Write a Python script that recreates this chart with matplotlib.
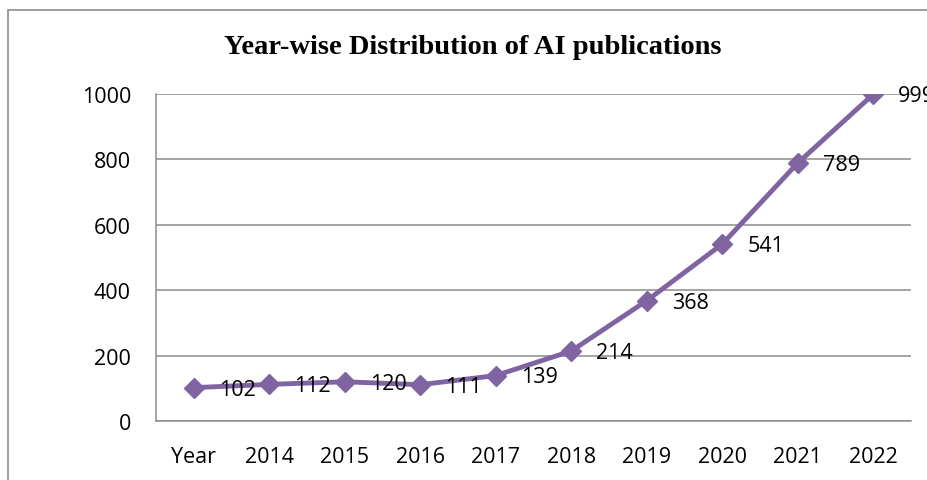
import matplotlib.pyplot as plt
import matplotlib.patches as mpatches

# Data
years = ['Year', '2014', '2015', '2016', '2017', '2018', '2019', '2020', '2021', '2022']
pubs = [102, 112, 120, 111, 139, 214, 368, 541, 789, 999]

line_color = '#8064A2'
grid_color = '#8C8C8C'

fig = plt.figure(figsize=(9.28, 4.81), dpi=100)
ax = fig.add_axes([156 / 928, 1 - 422 / 481, (911 - 156) / 928, (422 - 95) / 481])

x = list(range(len(years)))
ax.plot(x, pubs, color=line_color, linewidth=3.5, marker='D', markersize=10.5,
        markerfacecolor=line_color, markeredgecolor=line_color, zorder=3)

# Data labels to the right of each point
for xi, v in zip(x, pubs):
    ax.annotate(str(v), (xi, v), xytext=(18, -1), textcoords='offset points',
                ha='left', va='center', fontsize=15.5, family='Open Sans',
                color='black', zorder=4, annotation_clip=False)

ax.set_xlim(-0.5, len(years) - 0.5)
ax.set_ylim(0, 1000)
ax.set_yticks([0, 200, 400, 600, 800, 1000])
ax.set_xticks(x)
ax.set_xticklabels(years)

ax.grid(axis='y', color=grid_color, linewidth=1.1)
ax.set_axisbelow(True)
for side in ['top', 'right']:
    ax.spines[side].set_visible(False)
for side in ['left', 'bottom']:
    ax.spines[side].set_color(grid_color)
    ax.spines[side].set_linewidth(1.1)

ax.tick_params(axis='both', length=0, labelsize=15.5)
ax.tick_params(axis='y', pad=18)
ax.tick_params(axis='x', pad=18)
for lbl in ax.get_xticklabels() + ax.get_yticklabels():
    lbl.set_family('Open Sans')

# Title
fig.text(473 / 928, 1 - 47 / 481, 'Year-wise Distribution of AI publications',
         ha='center', va='center', fontsize=20.5, fontweight='bold',
         family='Liberation Serif')

# Outer chart frame (partly cropped in the original)
frame = mpatches.Rectangle((8.5 / 928, -0.2), 1.2, 1.2 - 11 / 481,
                           transform=fig.transFigure, fill=False,
                           edgecolor='#8C8C8C', linewidth=1.2)
fig.patches.append(frame)

fig.savefig('out.png', dpi=100, facecolor='white')
